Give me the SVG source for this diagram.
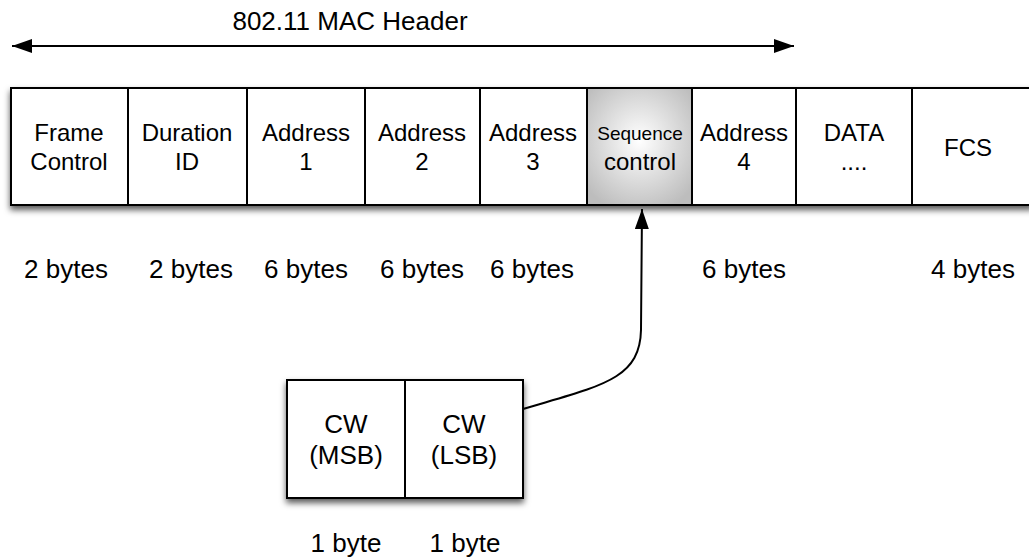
<svg xmlns="http://www.w3.org/2000/svg" width="1029" height="558" viewBox="0 0 1029 558">
<style>
text{font-family:"Liberation Sans",Arial,sans-serif;fill:#000;text-anchor:middle}
.t{font-size:26px}
.c{font-size:24px}
.s{font-size:19px}
.cell{fill:#fff;stroke:#000;stroke-width:2}
.div{stroke:#000;stroke-width:2}
.ln{fill:none;stroke:#000;stroke-width:2}
</style>
<defs>
<filter id="sh" x="-5%" y="-20%" width="110%" height="150%">
<feDropShadow dx="0" dy="4" stdDeviation="3" flood-color="#000" flood-opacity="0.65"/>
</filter>
<radialGradient id="g" cx="0.5" cy="0.45" r="0.65">
<stop offset="0" stop-color="#ffffff"/>
<stop offset="1" stop-color="#bdbdbd"/>
</radialGradient>
<marker id="ah" viewBox="0 0 20 14" refX="20" refY="7" markerWidth="20" markerHeight="14" markerUnits="userSpaceOnUse" orient="auto-start-reverse">
<path d="M0,0 L20,7 L0,14 Z" fill="#000"/>
</marker>
</defs>

<g id="title">
<text class="t" x="350" y="30">802.11 MAC Header</text>
</g>

<g id="header">
<rect class="cell" x="11" y="88" width="1022" height="117" filter="url(#sh)"/>
<rect x="587" y="89" width="105" height="115" fill="url(#g)"/>
<line class="div" x1="128" y1="88" x2="128" y2="205"/>
<line class="div" x1="247" y1="88" x2="247" y2="205"/>
<line class="div" x1="365" y1="88" x2="365" y2="205"/>
<line class="div" x1="480" y1="88" x2="480" y2="205"/>
<line class="div" x1="587" y1="88" x2="587" y2="205"/>
<line class="div" x1="692" y1="88" x2="692" y2="205"/>
<line class="div" x1="796" y1="88" x2="796" y2="205"/>
<line class="div" x1="912" y1="88" x2="912" y2="205"/>
</g>
<g id="frame-control"><text class="c" x="69" y="141">Frame</text><text class="c" x="69" y="170">Control</text></g>
<g id="duration-id"><text class="c" x="187" y="141">Duration</text><text class="c" x="187" y="170">ID</text></g>
<g id="address1"><text class="c" x="306" y="141">Address</text><text class="c" x="306" y="170">1</text></g>
<g id="address2"><text class="c" x="422" y="141">Address</text><text class="c" x="422" y="170">2</text></g>
<g id="address3"><text class="c" x="533" y="141">Address</text><text class="c" x="533" y="170">3</text></g>
<g id="sequence-control"><text class="s" x="640" y="140">Sequence</text><text class="c" x="640" y="170">control</text></g>
<g id="address4"><text class="c" x="744" y="141">Address</text><text class="c" x="744" y="170">4</text></g>
<g id="data"><text class="c" x="854" y="141">DATA</text><text class="c" x="854" y="170">....</text></g>
<g id="fcs"><text class="c" x="968" y="156">FCS</text></g>

<g id="sizes">
<text class="t" x="66" y="278">2 bytes</text>
<text class="t" x="191" y="278">2 bytes</text>
<text class="t" x="306" y="278">6 bytes</text>
<text class="t" x="422" y="278">6 bytes</text>
<text class="t" x="532" y="278">6 bytes</text>
<text class="t" x="744" y="278">6 bytes</text>
<text class="t" x="973" y="278">4 bytes</text>
</g>

<g id="cw">
<rect class="cell" x="287" y="380" width="236" height="118" filter="url(#sh)"/>
<line class="div" x1="405" y1="380" x2="405" y2="498"/>
<text class="t" x="346" y="433">CW</text><text class="t" x="346" y="464">(MSB)</text>
<text class="t" x="464" y="433">CW</text><text class="t" x="464" y="464">(LSB)</text>
<text class="t" x="346" y="552">1 byte</text>
<text class="t" x="465" y="552">1 byte</text>
</g>

<g id="connectors">
<line class="ln" x1="12" y1="46" x2="794" y2="46" marker-start="url(#ah)" marker-end="url(#ah)"/>
<path class="ln" d="M523,409 C600,386 640,380 641,330 L642,209" marker-end="url(#ah)"/>
</g>
</svg>
